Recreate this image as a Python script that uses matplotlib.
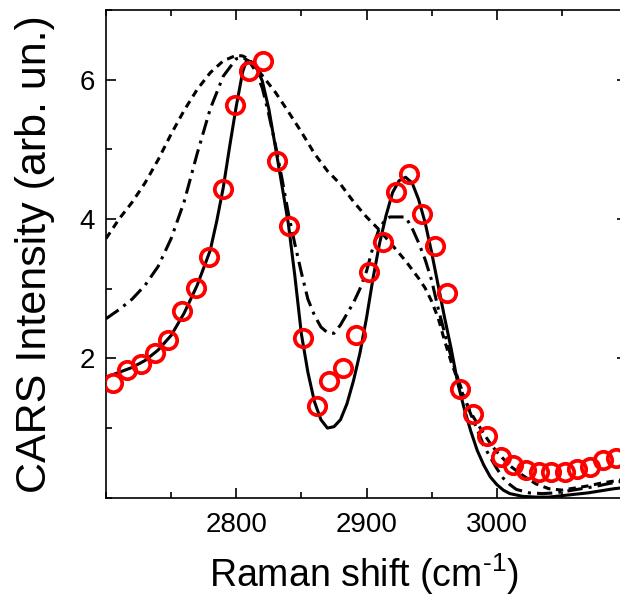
import numpy as np
import matplotlib
matplotlib.use("Agg")
import matplotlib.pyplot as plt
from matplotlib.ticker import MultipleLocator

plt.rcParams["font.family"] = ["Liberation Sans", "DejaVu Sans"]
plt.rcParams["mathtext.fontset"] = "custom"
plt.rcParams["mathtext.rm"] = "Liberation Sans"

# ---- measured CARS points (red circles) ----
x_exp = [2705.1, 2716.3, 2726.6, 2737.6, 2747.3, 2758.1, 2769.1, 2779.0, 2789.5, 2799.4,
         2810.0, 2820.7, 2831.0, 2840.6, 2851.4, 2861.7, 2871.3, 2882.1, 2891.8, 2901.8,
         2912.3, 2922.5, 2932.5, 2942.7, 2952.4, 2961.9, 2971.6, 2981.8, 2992.7, 3003.6,
         3012.5, 3022.8, 3032.5, 3042.0, 3052.2, 3061.6, 3071.4, 3081.6, 3091.8]
y_exp = [1.650, 1.832, 1.918, 2.080, 2.262, 2.682, 3.012, 3.456, 4.427, 5.631,
         6.122, 6.261, 4.832, 3.900, 2.286, 1.316, 1.670, 1.856, 2.334, 3.237,
         3.671, 4.388, 4.642, 4.068, 3.609, 2.932, 1.555, 1.201, 0.886, 0.589,
         0.470, 0.399, 0.374, 0.374, 0.374, 0.409, 0.446, 0.542, 0.566]

# ---- solid curve ----
x_fit = [2700, 2710, 2720, 2730, 2740, 2750, 2760, 2770, 2780, 2785, 2790, 2795, 2800, 2805,
         2808, 2812, 2816, 2820, 2825, 2830, 2835, 2840, 2845, 2850, 2855, 2860, 2865, 2870,
         2875, 2880, 2885, 2890, 2895, 2900, 2905, 2910, 2915, 2920, 2925, 2930, 2935, 2940,
         2945, 2950, 2955, 2960, 2965, 2970, 2975, 2980, 2985, 2990, 2995, 3000, 3005, 3010,
         3020, 3030, 3040, 3050, 3060, 3070, 3080, 3090, 3100]
y_fit = [1.73, 1.80, 1.87, 1.97, 2.12, 2.33, 2.65, 3.05, 3.55, 3.97, 4.45, 5.05, 5.62, 6.12,
         6.28, 6.25, 6.15, 5.98, 5.58, 5.04, 4.49, 3.93, 3.18, 2.35, 1.80, 1.38, 1.12, 1.00,
         1.02, 1.12, 1.35, 1.68, 2.08, 2.58, 3.15, 3.65, 4.05, 4.38, 4.55, 4.60, 4.52, 4.28,
         3.95, 3.52, 3.05, 2.58, 2.14, 1.65, 1.28, 0.96, 0.68, 0.47, 0.30, 0.19, 0.11, 0.06,
         0.02, 0.01, 0.01, 0.03, 0.05, 0.07, 0.10, 0.13, 0.15]

# ---- dash-dot curve ----
x_dd = [2700, 2710, 2720, 2730, 2740, 2750, 2760, 2770, 2780, 2790, 2800, 2805, 2810, 2815,
        2820, 2825, 2830, 2835, 2840, 2845, 2850, 2855, 2860, 2865, 2870, 2875, 2880, 2885,
        2890, 2895, 2900, 2905, 2910, 2915, 2918, 2930, 2935, 2940, 2945, 2950, 2955, 2960,
        2965, 2970, 2975, 2980, 2985, 2990, 2995, 3000, 3005, 3010, 3015, 3025, 3035, 3045,
        3055, 3065, 3075, 3085, 3100]
y_dd = [2.57, 2.70, 2.85, 3.05, 3.32, 3.72, 4.25, 4.94, 5.58, 6.05, 6.30, 6.32, 6.26, 6.12,
        5.88, 5.50, 5.07, 4.59, 4.08, 3.64, 3.23, 2.85, 2.62, 2.45, 2.37, 2.36, 2.48, 2.64,
        2.80, 3.00, 3.25, 3.60, 3.88, 4.00, 4.03, 4.03, 3.87, 3.66, 3.42, 3.12, 2.72, 2.36,
        2.02, 1.72, 1.45, 1.20, 0.98, 0.75, 0.58, 0.42, 0.28, 0.19, 0.12, 0.07, 0.06, 0.07,
        0.10, 0.13, 0.16, 0.20, 0.25]

# ---- short-dash curve ----
x_dot = [2700, 2710, 2720, 2730, 2740, 2750, 2760, 2770, 2780, 2790, 2800, 2805, 2810, 2820,
         2830, 2840, 2850, 2860, 2870, 2880, 2890, 2900, 2910, 2920, 2930, 2940, 2945, 2950,
         2955, 2960, 2965, 2970, 2975, 2980, 2985, 2990, 2995, 3000, 3005, 3010, 3020, 3030,
         3040, 3050, 3060, 3070, 3080, 3090, 3100]
y_dot = [3.72, 4.00, 4.24, 4.52, 4.85, 5.22, 5.56, 5.86, 6.10, 6.27, 6.35, 6.34, 6.29, 6.06,
         5.82, 5.54, 5.25, 4.94, 4.69, 4.50, 4.25, 4.03, 3.84, 3.62, 3.40, 3.15, 3.01, 2.82,
         2.58, 2.25, 1.95, 1.69, 1.43, 1.22, 1.07, 0.92, 0.78, 0.66, 0.56, 0.46, 0.32, 0.20,
         0.13, 0.11, 0.14, 0.17, 0.21, 0.24, 0.27]

fig = plt.figure(figsize=(6.2, 5.99), dpi=100)
# axes runs past the right edge of the figure, as in the cropped original
ax = fig.add_axes([0.171, 0.169, 0.8403, 0.8143])

lw = 2.2
ax.plot(x_dot, y_dot, color="black", lw=lw, linestyle=(0, (2.4, 1.8)))
ax.plot(x_dd, y_dd, color="black", lw=lw, linestyle=(0, (5.0, 2.0, 1.0, 2.0)))
ax.plot(x_fit, y_fit, color="black", lw=lw, linestyle="-")
ax.plot(x_exp, y_exp, linestyle="none", marker="o", ms=12.5, mfc="none",
        mec="red", mew=2.7, zorder=5)

ax.set_xlim(2700, 3100)
ax.set_ylim(0, 7)
ax.xaxis.set_minor_locator(MultipleLocator(50))
ax.yaxis.set_minor_locator(MultipleLocator(1))
ax.set_xticks([2800, 2900, 3000])
ax.set_yticks([2, 4, 6])

ax.tick_params(which="both", direction="in", top=True, right=True, width=1.2)
ax.tick_params(which="major", length=7)
ax.tick_params(which="minor", length=4)
ax.tick_params(axis="x", labelsize=20, pad=10)
ax.tick_params(axis="y", labelsize=20, pad=8)
for spine in ax.spines.values():
    spine.set_linewidth(1.2)

ax.set_xlabel(r"Raman shift (cm$^{\mathregular{‐1}}$)", fontsize=27)
ax.set_ylabel("CARS Intensity (arb. un.)", fontsize=31)
ax.xaxis.set_label_coords(0.495, -0.110)
ax.yaxis.set_label_coords(-0.098, 0.5)

fig.savefig("out.png", dpi=100)
